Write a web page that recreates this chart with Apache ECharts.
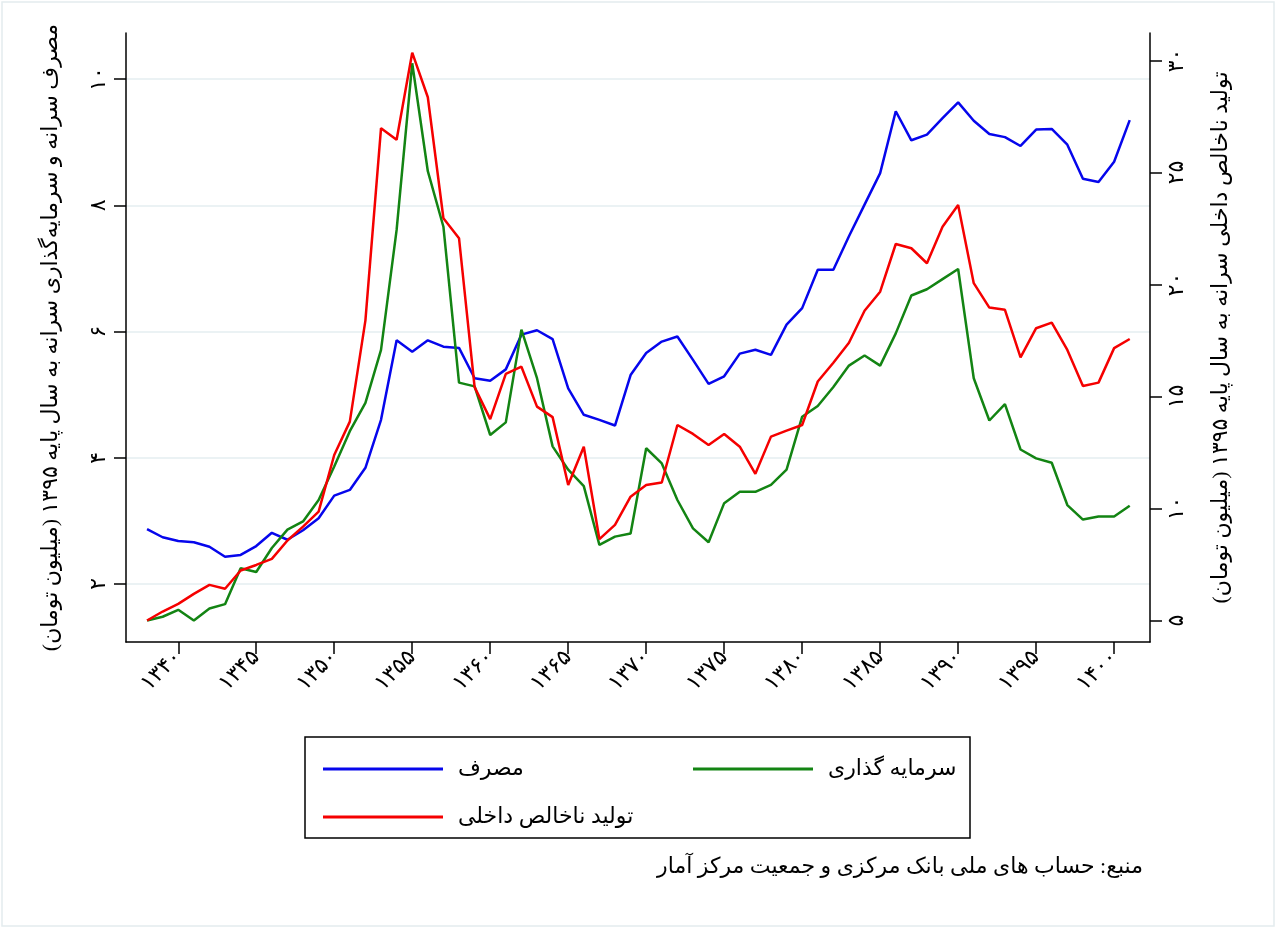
<!DOCTYPE html>
<html>
<head>
<meta charset="utf-8">
<script src="https://cdn.jsdelivr.net/npm/echarts@6/dist/echarts.min.js"></script>
<style>
  html, body { margin: 0; padding: 0; background: #fff; }
  #main { width: 1276px; height: 928px; direction: rtl; }
</style>
</head>
<body>
<div id="main"></div>
<script>
// سال‌ها و مقادیر (خوانده از نمودار)
const years = [];
for (let y = 1338; y <= 1401; y++) years.push(y);

// مصرف سرانه (محور چپ)
const consumption = [
  2.87, 2.74, 2.68, 2.66, 2.59, 2.43, 2.46, 2.60, 2.81, 2.70,
  2.85, 3.04, 3.40, 3.49, 3.84, 4.60, 5.86, 5.68, 5.86, 5.76,
  5.74, 5.26, 5.22, 5.40, 5.95, 6.02, 5.88, 5.10, 4.68, 4.60,
  4.51, 5.31, 5.66, 5.84, 5.92, 5.55, 5.17, 5.29, 5.65, 5.71,
  5.63, 6.11, 6.37, 6.98, 6.98, 7.51, 8.01, 8.51, 9.49, 9.03,
  9.12, 9.38, 9.63, 9.34, 9.13, 9.08, 8.94, 9.20, 9.21, 8.96,
  8.42, 8.37, 8.69, 9.35
];

// سرمایه گذاری سرانه (محور چپ)
const investment = [
  1.42, 1.48, 1.59, 1.42, 1.61, 1.68, 2.25, 2.19, 2.57, 2.86,
  2.99, 3.33, 3.86, 4.42, 4.87, 5.71, 7.61, 10.25, 8.54, 7.66,
  5.19, 5.13, 4.36, 4.56, 6.03, 5.26, 4.18, 3.81, 3.55, 2.62,
  2.75, 2.80, 4.15, 3.91, 3.33, 2.88, 2.66, 3.28, 3.46, 3.46,
  3.57, 3.81, 4.65, 4.82, 5.12, 5.46, 5.62, 5.46, 5.97, 6.57,
  6.67, 6.83, 6.99, 5.26, 4.59, 4.85, 4.13, 3.99, 3.92, 3.25,
  3.02, 3.07, 3.07, 3.24
];

// تولید ناخالص داخلی سرانه (محور راست)
const gdp = [
  5.00, 5.40, 5.74, 6.19, 6.59, 6.42, 7.23, 7.48, 7.75, 8.57,
  9.19, 9.86, 12.39, 13.88, 18.40, 26.98, 26.46, 30.35, 28.36, 22.96,
  22.07, 15.42, 13.99, 16.01, 16.33, 14.55, 14.08, 11.05, 12.76, 8.63,
  9.27, 10.53, 11.05, 11.16, 13.73, 13.33, 12.84, 13.33, 12.76, 11.55,
  13.21, 13.48, 13.73, 15.67, 16.51, 17.40, 18.83, 19.68, 21.81, 21.62,
  20.95, 22.58, 23.55, 20.06, 18.97, 18.87, 16.75, 18.05, 18.30, 17.08,
  15.47, 15.62, 17.16, 17.57
];

const xTicks = [1340, 1345, 1350, 1355, 1360, 1365, 1370, 1375, 1380, 1385, 1390, 1395, 1400];
const leftTicks = [2, 4, 6, 8, 10];
const rightTicks = [5, 10, 15, 20, 25, 30];

const names = ['مصرف', 'سرمایه گذاری', 'تولید ناخالص داخلی'];
const colors = ['#0606ec', '#138413', '#f50000'];

const fa = v => String(v).replace(/\d/g, d => '۰۱۲۳۴۵۶۷۸۹'[d]);
const FONT = "'Liberation Serif', 'DejaVu Sans', serif";
const FS = 22;

const pairs = arr => years.map((y, i) => [y, arr[i]]);

const axisLine = { show: true, lineStyle: { color: '#000', width: 1.5 } };
const tickStyle = { color: '#000', width: 1.5 };

let chart = echarts.init(document.getElementById('main'));

chart.setOption({
  backgroundColor: '#fff',
  animation: false,
  textStyle: { fontFamily: FONT },
  grid: { left: 126, right: 126, top: 33, bottom: 286 },
  xAxis: {
    type: 'value',
    min: 1336.65,
    max: 1402.3,
    axisLine: axisLine,
    axisTick: { show: true, length: 12, customValues: xTicks, lineStyle: tickStyle },
    axisLabel: {
      customValues: xTicks, rotate: 45, margin: 12,
      formatter: v => fa(v), fontSize: FS, color: '#000', fontFamily: FONT
    },
    splitLine: { show: false }
  },
  yAxis: [
    {
      type: 'value',
      position: 'left',
      min: 1.08,
      max: 10.73,
      name: 'مصرف سرانه و سرمایه‌گذاری سرانه به سال پایه ۱۳۹۵ (میلیون تومان)',
      nameLocation: 'middle',
      nameRotate: 90,
      nameGap: 64,
      nameTextStyle: { fontSize: FS, color: '#000', fontFamily: FONT },
      axisLine: axisLine,
      axisTick: { show: true, length: 12, customValues: leftTicks, lineStyle: tickStyle },
      axisLabel: {
        customValues: leftTicks, rotate: 90, margin: 16,
        formatter: v => fa(v), fontSize: FS, color: '#000', fontFamily: FONT
      },
      splitLine: { show: true, lineStyle: { color: '#e5eef0', width: 1.5 } }
    },
    {
      type: 'value',
      position: 'right',
      min: 4.04,
      max: 31.23,
      name: 'تولید ناخالص داخلی سرانه به سال پایه ۱۳۹۵ (میلیون تومان)',
      nameLocation: 'middle',
      nameRotate: 90,
      nameGap: 60,
      nameTextStyle: { fontSize: FS, color: '#000', fontFamily: FONT },
      axisLine: axisLine,
      axisTick: { show: true, length: 12, customValues: rightTicks, lineStyle: tickStyle },
      axisLabel: {
        customValues: rightTicks, rotate: 90, margin: 16,
        formatter: v => fa(v), fontSize: FS, color: '#000', fontFamily: FONT
      },
      splitLine: { show: false }
    }
  ],
  legend: [
    { data: [names[0]], left: 318, top: 753 },
    { data: [names[1]], left: 688, top: 753 },
    { data: [names[2]], left: 318, top: 801 }
  ].map(l => Object.assign({
    icon: 'rect', itemWidth: 120, itemHeight: 3, selectedMode: false,
    textStyle: { fontSize: FS, color: '#000', fontFamily: FONT, padding: [0, 0, 0, 10] }
  }, l)),
  series: [
    { name: names[0], type: 'line', yAxisIndex: 0, data: pairs(consumption) },
    { name: names[1], type: 'line', yAxisIndex: 0, data: pairs(investment) },
    { name: names[2], type: 'line', yAxisIndex: 1, data: pairs(gdp) }
  ].map((s, i) => Object.assign({
    symbol: 'none',
    color: colors[i],
    lineStyle: { width: 2.5, color: colors[i] }
  }, s)),
  graphic: [
    { type: 'rect', shape: { x: 2, y: 2, width: 1272, height: 924 },
      style: { fill: 'none', stroke: '#e4ecee', lineWidth: 1.5 }, silent: true },
    { type: 'rect', shape: { x: 305, y: 737, width: 665, height: 101 },
      style: { fill: 'none', stroke: '#000', lineWidth: 1.5 }, silent: true },
    { type: 'text', x: 1143, y: 867,
      style: { text: 'منبع: حساب های ملی بانک مرکزی و جمعیت مرکز آمار', fontSize: FS,
        fill: '#000', fontFamily: FONT, align: 'right', verticalAlign: 'middle' }, silent: true }
  ]
});
</script>
</body>
</html>
